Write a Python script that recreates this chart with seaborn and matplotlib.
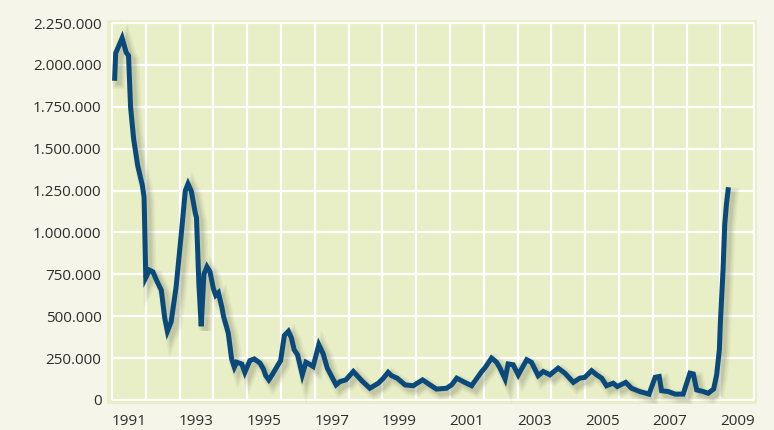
import numpy as np
import pandas as pd
import seaborn as sns
import matplotlib.pyplot as plt
import matplotlib.patheffects as pe
from matplotlib.ticker import FuncFormatter

# Series (decimal year, value)
years = [
    1991.08, 1991.11, 1991.30, 1991.42, 1991.49, 1991.55, 1991.64, 1991.76, 1991.90, 1991.95,
    1992.00, 1992.11, 1992.21, 1992.34, 1992.46, 1992.56, 1992.64, 1992.75, 1992.90,
    1993.05, 1993.17, 1993.25, 1993.35, 1993.47, 1993.50, 1993.57, 1993.64, 1993.72, 1993.81, 1993.90,
    1994.00, 1994.07, 1994.15, 1994.25, 1994.30, 1994.44, 1994.54, 1994.62, 1994.69, 1994.84, 1994.93,
    1995.08, 1995.21, 1995.38, 1995.48, 1995.55, 1995.64, 1995.74, 1995.87, 1995.99,
    1996.10, 1996.22, 1996.31, 1996.39, 1996.49, 1996.63, 1996.74, 1996.83, 1996.95,
    1997.12, 1997.25, 1997.37, 1997.63, 1997.75, 1997.92,
    1998.14, 1998.39, 1998.63, 1998.88,
    1999.03, 1999.17, 1999.27, 1999.44, 1999.67, 1999.91,
    2000.19, 2000.41, 2000.60, 2000.90,
    2001.05, 2001.20, 2001.39, 2001.64, 2001.94,
    2002.03, 2002.23, 2002.38, 2002.48, 2002.63, 2002.72, 2002.87,
    2003.02, 2003.27, 2003.41, 2003.61, 2003.76, 2003.96,
    2004.20, 2004.40, 2004.65, 2004.84, 2004.99,
    2005.19, 2005.34, 2005.49, 2005.63, 2005.83, 2005.95,
    2006.20, 2006.37, 2006.62, 2006.89,
    2007.07, 2007.19, 2007.26, 2007.46, 2007.66, 2007.90,
    2008.10, 2008.20, 2008.30, 2008.50, 2008.64, 2008.80, 2008.89, 2008.97,
    2009.00, 2009.04, 2009.08, 2009.13, 2009.18, 2009.23,
]
values = [
    1920000, 2070000, 2160000, 2075000, 2055000, 1750000, 1560000, 1400000, 1280000, 1210000,
    730000, 775000, 765000, 705000, 655000, 490000, 410000, 465000, 680000,
    990000, 1250000, 1290000, 1245000, 1110000, 1090000, 700000, 440000, 750000, 795000, 765000,
    665000, 625000, 640000, 555000, 500000, 400000, 245000, 195000, 225000, 215000, 165000,
    235000, 245000, 220000, 185000, 145000, 120000, 150000, 195000, 235000,
    385000, 410000, 370000, 300000, 270000, 150000, 225000, 215000, 200000,
    330000, 275000, 190000, 90000, 110000, 120000,
    170000, 115000, 70000, 100000,
    130000, 165000, 145000, 130000, 90000, 85000,
    120000, 90000, 65000, 70000,
    90000, 130000, 110000, 85000, 170000,
    190000, 250000, 225000, 190000, 125000, 215000, 210000,
    150000, 240000, 225000, 145000, 170000, 150000,
    190000, 160000, 105000, 130000, 135000,
    175000, 150000, 130000, 85000, 100000, 80000,
    105000, 70000, 50000, 35000,
    135000, 140000, 55000, 50000, 35000, 35000,
    160000, 155000, 60000, 50000, 40000, 65000, 150000, 300000,
    460000, 620000, 780000, 1050000, 1170000, 1255000,
]

label_years = list(range(1991, 2010, 2))
grid_years = list(range(1991, 2011))
y_ticks = list(range(0, 2250001, 250000))

df = pd.DataFrame({"year": years, "value": values})

plt.rcParams['font.family'] = ['Open Sans', 'DejaVu Sans']

fig = plt.figure(figsize=(7.74, 4.30), dpi=100)
fig.patch.set_facecolor('#f5f6e9')
ax = fig.add_axes([0.1382, 0.0605, 0.8398, 0.893])
ax.set_facecolor('#e8efc6')

# white grid, limited to the data frame
ax.hlines(y_ticks, 1991, 2010, color='white', lw=1.6, zorder=1)
ax.vlines(grid_years, 0, 2250000, color='white', lw=1.6, zorder=1)

lw = 3.6
sns.lineplot(data=df, x='year', y='value', ax=ax, sort=False, estimator=None,
             color='#0a4a7a', lw=lw, zorder=3)
line = ax.lines[-1]
line.set_solid_joinstyle('miter')
# soft drop shadow: a few wide, faint layers
shadow = [pe.SimpleLineShadow(offset=(3, -3), shadow_color='#5c5c40',
                              alpha=a, linewidth=lw + w)
          for w, a in [(6, 0.05), (4, 0.06), (2, 0.08), (0, 0.1)]]
line.set_path_effects(shadow + [pe.Normal()])

ax.set_xlim(1990.852, 2010.083)
ax.set_ylim(-24000, 2268000)
ax.set_xticks([y + 0.5 for y in label_years])
ax.set_xticklabels([str(y) for y in label_years])
ax.set_yticks(y_ticks)
ax.yaxis.set_major_formatter(FuncFormatter(lambda v, p: f"{int(v):,}".replace(',', '.')))
ax.tick_params(axis='both', length=0, labelsize=11, colors='#2e2e2e')
ax.tick_params(axis='y', pad=4)
ax.tick_params(axis='x', pad=7)
ax.set_xlabel('')
ax.set_ylabel('')
for s in ax.spines.values():
    s.set_visible(False)

fig.savefig('out.png', dpi=100, facecolor=fig.get_facecolor())
